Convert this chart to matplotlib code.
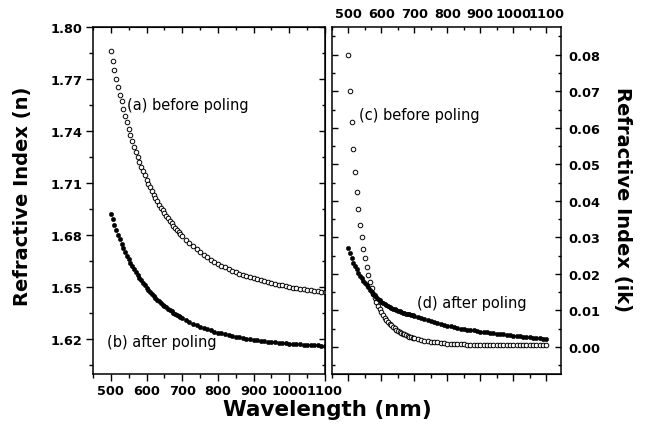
import matplotlib
matplotlib.use("Agg")
import matplotlib.pyplot as plt
from matplotlib.ticker import MultipleLocator, FormatStrFormatter

# sampling wavelengths (nm): 5 nm steps to 695, then 10 nm
wavelength = [500, 505, 510, 515, 520, 525, 530, 535, 540, 545,
              550, 555, 560, 565, 570, 575, 580, 585, 590, 595,
              600, 605, 610, 615, 620, 625, 630, 635, 640, 645,
              650, 655, 660, 665, 670, 675, 680, 685, 690, 695,
              700, 710, 720, 730, 740, 750, 760, 770, 780, 790,
              800, 810, 820, 830, 840, 850, 860, 870, 880, 890,
              900, 910, 920, 930, 940, 950, 960, 970, 980, 990,
              1000, 1010, 1020, 1030, 1040, 1050, 1060, 1070, 1080, 1090,
              1100]

# (a) n before poling
n_before = [1.7860, 1.7806, 1.7752, 1.7702, 1.7655, 1.7610, 1.7571, 1.7529, 1.7488, 1.7449,
            1.7412, 1.7377, 1.7343, 1.7310, 1.7279, 1.7250, 1.7221, 1.7194, 1.7168, 1.7143,
            1.7119, 1.7096, 1.7074, 1.7052, 1.7032, 1.7012, 1.6994, 1.6975, 1.6958, 1.6941,
            1.6925, 1.6910, 1.6895, 1.6880, 1.6867, 1.6853, 1.6840, 1.6828, 1.6816, 1.6804,
            1.6793, 1.6772, 1.6752, 1.6734, 1.6717, 1.6701, 1.6686, 1.6672, 1.6658, 1.6646,
            1.6634, 1.6623, 1.6613, 1.6603, 1.6594, 1.6586, 1.6577, 1.6570, 1.6562, 1.6556,
            1.6549, 1.6543, 1.6537, 1.6532, 1.6526, 1.6521, 1.6517, 1.6512, 1.6508, 1.6504,
            1.6500, 1.6496, 1.6493, 1.6490, 1.6486, 1.6483, 1.6480, 1.6478, 1.6475, 1.6472,
            1.6470]

# (b) n after poling
n_after = [1.6923, 1.6890, 1.6859, 1.6830, 1.6802, 1.6775, 1.6750, 1.6725, 1.6702, 1.6680,
           1.6659, 1.6639, 1.6620, 1.6602, 1.6585, 1.6568, 1.6552, 1.6537, 1.6523, 1.6509,
           1.6495, 1.6483, 1.6470, 1.6459, 1.6448, 1.6437, 1.6427, 1.6417, 1.6407, 1.6398,
           1.6389, 1.6381, 1.6373, 1.6365, 1.6358, 1.6351, 1.6344, 1.6337, 1.6331, 1.6325,
           1.6319, 1.6308, 1.6297, 1.6288, 1.6279, 1.6270, 1.6263, 1.6255, 1.6249, 1.6242,
           1.6236, 1.6231, 1.6226, 1.6221, 1.6217, 1.6212, 1.6208, 1.6205, 1.6201, 1.6198,
           1.6195, 1.6192, 1.6189, 1.6187, 1.6184, 1.6182, 1.6180, 1.6178, 1.6176, 1.6174,
           1.6173, 1.6171, 1.6170, 1.6168, 1.6167, 1.6166, 1.6164, 1.6163, 1.6162, 1.6161,
           1.6160]

# (c) k before poling
k_before = [0.0800, 0.0701, 0.0616, 0.0542, 0.0479, 0.0425, 0.0377, 0.0334, 0.0300, 0.0268,
            0.0243, 0.0218, 0.0196, 0.0177, 0.0160, 0.0146, 0.0134, 0.0123, 0.0112, 0.0103,
            0.0095, 0.0087, 0.0080, 0.0074, 0.0068, 0.0063, 0.0059, 0.0055, 0.0051, 0.0047,
            0.0044, 0.0041, 0.0039, 0.0036, 0.0034, 0.0032, 0.0030, 0.0028, 0.0027, 0.0025,
            0.0024, 0.0021, 0.0019, 0.0017, 0.0015, 0.0014, 0.0013, 0.0012, 0.0011, 0.0010,
            0.0009, 0.0009, 0.0008, 0.0008, 0.0007, 0.0007, 0.0006, 0.0006, 0.0006, 0.0005,
            0.0005, 0.0005, 0.0005, 0.0005, 0.0004, 0.0004, 0.0004, 0.0004, 0.0004, 0.0004,
            0.0004, 0.0004, 0.0004, 0.0004, 0.0004, 0.0004, 0.0004, 0.0004, 0.0004, 0.0004,
            0.0004]

# (d) k after poling
k_after = [0.0272, 0.0258, 0.0244, 0.0231, 0.0221, 0.0212, 0.0203, 0.0195, 0.0188, 0.0181,
           0.0175, 0.0169, 0.0163, 0.0157, 0.0151, 0.0146, 0.0141, 0.0136, 0.0131, 0.0127,
           0.0123, 0.0120, 0.0117, 0.0114, 0.0111, 0.0109, 0.0107, 0.0105, 0.0103, 0.0101,
           0.0099, 0.0097, 0.0096, 0.0094, 0.0093, 0.0091, 0.0090, 0.0089, 0.0087, 0.0086,
           0.0085, 0.0082, 0.0079, 0.0076, 0.0073, 0.0070, 0.0068, 0.0065, 0.0063, 0.0060,
           0.0058, 0.0056, 0.0054, 0.0052, 0.0050, 0.0049, 0.0047, 0.0046, 0.0045, 0.0043,
           0.0042, 0.0041, 0.0040, 0.0039, 0.0037, 0.0036, 0.0035, 0.0034, 0.0033, 0.0032,
           0.0031, 0.0030, 0.0029, 0.0028, 0.0027, 0.0026, 0.0025, 0.0024, 0.0023, 0.0022,
           0.0021]

W, H = 646, 439
fig = plt.figure(figsize=(W / 100, H / 100), dpi=100, facecolor="white")
plt.rcParams["font.family"] = ["DejaVu Sans"]

bot, top = 374.5, 28
ax1 = fig.add_axes([93 / W, (H - bot) / H, (325 - 93) / W, (bot - top) / H])
ax2 = fig.add_axes([332 / W, (H - bot) / H, (561 - 332) / W, (bot - top) / H])

open_kw = dict(ls="none", marker="o", ms=3.3, mfc="white", mec="black", mew=0.7)
fill_kw = dict(ls="none", marker="o", ms=3.2, mfc="black", mec="black", mew=0.3)

ax1.plot(wavelength, n_before, **open_kw)
ax1.plot(wavelength, n_after, **fill_kw)
ax2.plot(wavelength, k_before, **open_kw)
ax2.plot(wavelength, k_after, **fill_kw)

tick_font = dict(labelsize=9.3)
for ax in (ax1, ax2):
    for sp in ax.spines.values():
        sp.set_linewidth(1.1)

# left panel
ax1.set_xlim(450, 1100)
ax1.set_ylim(1.60, 1.80)
ax1.xaxis.set_major_locator(MultipleLocator(100))
ax1.xaxis.set_minor_locator(MultipleLocator(50))
ax1.yaxis.set_major_locator(MultipleLocator(0.03))
ax1.yaxis.set_minor_locator(MultipleLocator(0.015))
ax1.yaxis.set_major_formatter(FormatStrFormatter("%.2f"))
ax1.tick_params(which="both", direction="out", width=1.0, top=False, right=False, **tick_font)
ax1.tick_params(which="major", length=5, pad=2.5)
ax1.tick_params(which="minor", length=3)
for lab in ax1.get_xticklabels() + ax1.get_yticklabels():
    lab.set_fontweight("bold")

t1 = ax1.secondary_xaxis("top")
t1.xaxis.set_major_locator(MultipleLocator(100))
t1.xaxis.set_minor_locator(MultipleLocator(50))
t1.tick_params(which="both", direction="in", width=1.0, labeltop=False)
t1.tick_params(which="major", length=4)
t1.tick_params(which="minor", length=2.5)
r1 = ax1.secondary_yaxis("right")
r1.yaxis.set_major_locator(MultipleLocator(0.03))
r1.yaxis.set_minor_locator(MultipleLocator(0.015))
r1.tick_params(which="both", direction="in", width=1.0, labelright=False)
r1.tick_params(which="major", length=4)
r1.tick_params(which="minor", length=2.5)

# right panel
ax2.set_xlim(450, 1145)
ax2.set_ylim(-0.0073, 0.0876)
ax2.xaxis.set_major_locator(MultipleLocator(100))
ax2.xaxis.set_minor_locator(MultipleLocator(50))
ax2.yaxis.set_major_locator(MultipleLocator(0.01))
ax2.yaxis.set_minor_locator(MultipleLocator(0.005))
ax2.yaxis.set_major_formatter(FormatStrFormatter("%.2f"))
ax2.tick_params(which="both", direction="in", width=1.0, bottom=False, labelbottom=False,
                top=True, labeltop=True, left=True, labelleft=False,
                right=True, labelright=True, **tick_font)
ax2.tick_params(which="major", length=4, pad=5)
ax2.tick_params(which="minor", length=2.5)
for lab in ax2.get_xticklabels() + ax2.get_yticklabels():
    lab.set_fontweight("bold")

b2 = ax2.secondary_xaxis("bottom")
b2.xaxis.set_major_locator(MultipleLocator(100))
b2.xaxis.set_minor_locator(MultipleLocator(50))
b2.tick_params(which="both", direction="out", width=1.0, labelbottom=False)
b2.tick_params(which="major", length=5)
b2.tick_params(which="minor", length=3)

# annotations
note = dict(fontsize=10.5, ha="left", va="center", color="black")
ax1.text(545, 1.755, "(a) before poling", **note)
ax1.text(489, 1.6185, "(b) after poling", **note)
ax2.text(532, 0.0635, "(c) before poling", **note)
ax2.text(708, 0.01225, "(d) after poling", **note)

# axis titles
lab_kw = dict(fontweight="bold", ha="center", va="center")
fig.text(327 / W, 1 - 410 / H, "Wavelength (nm)", fontsize=15.5, **lab_kw)
fig.text(23 / W, 1 - 196 / H, "Refractive Index (n)", fontsize=14, rotation=90, **lab_kw)
fig.text(622 / W, 1 - 200 / H, "Refractive Index (ik)", fontsize=14, rotation=-90, **lab_kw)

fig.savefig("out.png", dpi=100, facecolor="white")
